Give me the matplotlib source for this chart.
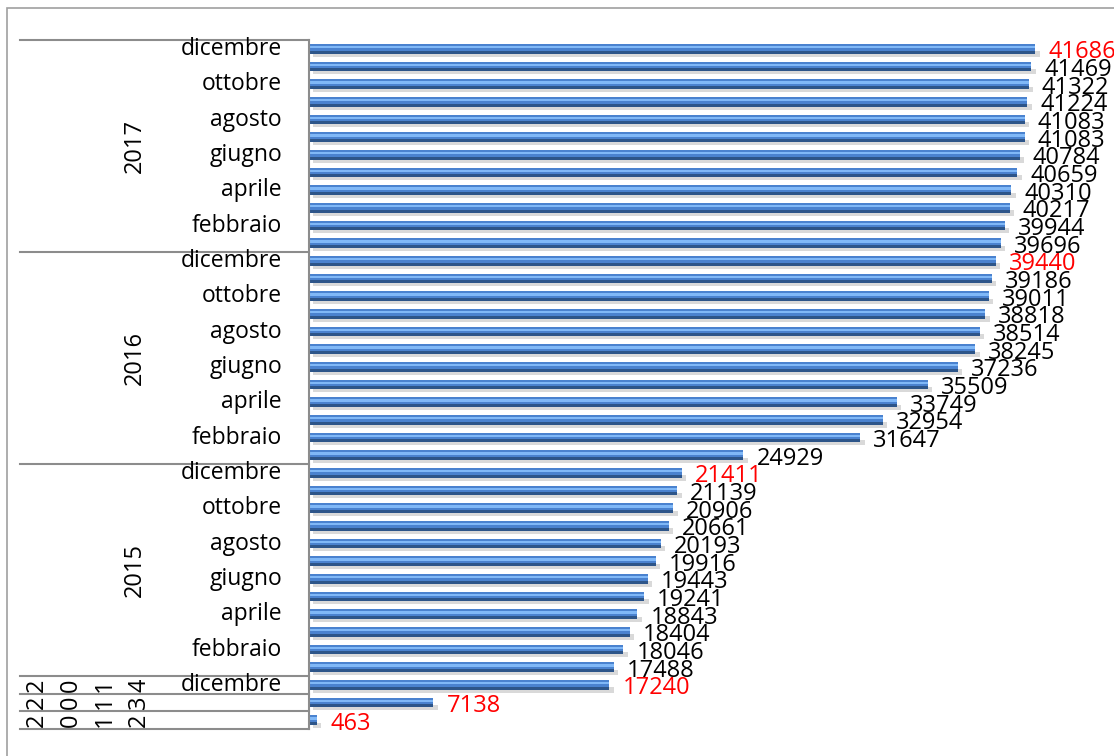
import matplotlib
matplotlib.use("Agg")
import matplotlib.pyplot as plt
import matplotlib.transforms as mtransforms
from matplotlib.patches import Rectangle

plt.rcParams['font.family'] = ['Open Sans', 'DejaVu Sans']

## values from bottom (2012) to top (dicembre 2017)
months = ["gennaio", "febbraio", "marzo", "aprile", "maggio", "giugno",
          "luglio", "agosto", "settembre", "ottobre", "novembre", "dicembre"]
values_early = [463, 7138, 17240]
values_2015 = [17488, 18046, 18404, 18843, 19241, 19443, 19916, 20193, 20661, 20906, 21139, 21411]
values_2016 = [24929, 31647, 32954, 33749, 35509, 37236, 38245, 38514, 38818, 39011, 39186, 39440]
values_2017 = [39696, 39944, 40217, 40310, 40659, 40784, 41083, 41083, 41224, 41322, 41469, 41686]
years = ["2015", "2016", "2017"]
early_years = ["2012", "2013", "2014"]
shown_months = ["febbraio", "aprile", "giugno", "agosto", "ottobre", "dicembre"]

values = values_early + values_2015 + values_2016 + values_2017
labels = ["", "", "dicembre"] + [m for y in years for m in months]
is_dec = [True, True, True] + [m == "dicembre" for y in years for m in months]
pos = list(range(len(values)))

fig = plt.figure(figsize=(11.14, 7.56), dpi=100)
ax = fig.add_axes([309 / 1114, 27 / 756, 784 / 1114, 689 / 756])

## outer frame of the chart
fig.patches.append(Rectangle((7 / 1114, -0.1), 1.2, 0.1 + 748 / 756, transform=fig.transFigure,
                             fill=False, edgecolor="#a0a0a0", linewidth=1.2))

## shadow, body, dark bottom and highlight to fake the 3d bars
ax.barh([p - 0.3 for p in pos], values, height=0.3, color="#d9d9d9", left=250)
ax.barh(pos, values, height=0.56, color="#4a82cf")
ax.barh([p - 0.19 for p in pos], values, height=0.18, color="#2d5589")
ax.barh([p + 0.1 for p in pos], values, height=0.13, color="#80b8f7")

for p, v, red in zip(pos, values, is_dec):
    ax.text(v + 750, p - 0.2, str(v), va="center", ha="left", fontsize=17,
            color="red" if red else "black")

ax.set_xlim(0, 45000)
ax.set_ylim(-0.5, len(values) - 0.5)
ax.set_xticks([])
ax.set_yticks([])
for s in ["top", "right", "bottom"]:
    ax.spines[s].set_visible(False)
ax.spines["left"].set_color("#8c8c8c")
ax.spines["left"].set_linewidth(1.5)

trans = mtransforms.blended_transform_factory(ax.transAxes, ax.transData)
left_end = -(309 - 20) / 784

## month tick labels (every other one)
for p, lab in zip(pos, labels):
    if lab in shown_months:
        ax.text(-27 / 784, p, lab, transform=trans, ha="right", va="center", fontsize=16.5)

## group separators
for b in [-0.5, 0.5, 1.5, 2.5, 14.5, 26.5, 38.5]:
    ax.plot([left_end, 0], [b, b], transform=trans, color="#8c8c8c", linewidth=1.5, clip_on=False)

## year labels
for i, y in enumerate(years):
    mid = 3 + 12 * i + 5.5
    ax.text(-174 / 784, mid, y, transform=trans, rotation=90, ha="center", va="center", fontsize=17)

## stacked single-character years for the first three rows
for p, y in zip([0, 1, 2], early_years):
    for k, ch in enumerate(y):
        ax.text((37 + 34 * k - 309) / 784, p, ch, transform=trans, rotation=90,
                ha="center", va="center", fontsize=17)

fig.savefig("out.png", dpi=100)
